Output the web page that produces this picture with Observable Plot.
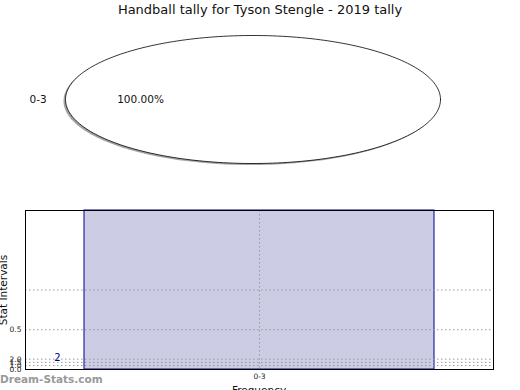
<!DOCTYPE html>
<html><head><meta charset="utf-8">
<script src="https://cdn.jsdelivr.net/npm/d3@7"></script>
<script src="https://cdn.jsdelivr.net/npm/@observablehq/plot@0.6"></script>
<style>
body{margin:0;background:#fff;font-family:"DejaVu Sans",sans-serif;}
#wrap{position:relative;width:520px;height:390px;overflow:hidden;}
#wrap svg{position:absolute;left:0;overflow:visible;}
#title{position:absolute;top:2px;left:0;width:520px;text-align:center;font-size:13px;color:#111;}
#wm{position:absolute;left:0;top:373px;font-size:10.5px;font-weight:bold;color:#999;font-family:"DejaVu Sans",sans-serif;}
</style></head>
<body><div id="wrap"><div id="title">Handball tally for Tyson Stengle - 2019 tally</div></div>
<script>
const titleText = "Handball tally for Tyson Stengle - 2019 tally";
const categories = ["0-3"];
const counts = [2];
const percentLabels = ["100.00%"];
const yTickValues = [0, 0.05, 0.09, 0.13, 0.5];
const yTickLabels = ["0.0", "1.0", "1.5", "2.0", "0.5"];
const yGridValues = [0.05, 0.09, 0.13, 0.5, 1.0];
const valueLabelPos = [0.13];

const wrap = document.getElementById("wrap");

// ---------- Pie ----------
const pie = d3.pie().sort(null).startAngle(Math.PI/2).endAngle(Math.PI/2 + 2*Math.PI)(counts);
const ring = [];
pie.forEach((p, i) => {
  const n = 240;
  for (let k = 0; k <= n; k++) {
    const a = p.startAngle + (p.endAngle - p.startAngle) * k / n;
    ring.push({x: Math.sin(a), y: Math.cos(a), cat: categories[i]});
  }
});
const pieLabels = pie.map((p, i) => {
  const mid = (p.startAngle + p.endAngle) / 2;
  return {cat: categories[i], pct: percentLabels[i], mx: Math.sin(mid), my: Math.cos(mid)};
});
const pieSvg = Plot.plot({
  width: 520, height: 200,
  marginLeft: 65, marginRight: 80, marginTop: 35, marginBottom: 37,
  x: {domain: [-1, 1], axis: null},
  y: {domain: [-1, 1], axis: null},
  style: {fontFamily: "DejaVu Sans, sans-serif", overflow: "visible"},
  marks: [
    Plot.line(ring, {x: "x", y: "y", fill: "#999", stroke: "none", dx: -2, dy: 1.5, opacity: 0.9}),
    Plot.line(ring, {x: "x", y: "y", fill: "white", stroke: "black", strokeWidth: 0.8}),
    Plot.text(pieLabels, {x: d => d.mx * 1.1, y: d => d.my * 1.1, text: "cat", textAnchor: "end", fontSize: 10.5, fill: "#111"}),
    Plot.text(pieLabels, {x: d => d.mx * 0.6, y: d => d.my * 0.6, text: "pct", fontSize: 10.5, fill: "#111"})
  ]
});
pieSvg.style.top = "0px";
wrap.appendChild(pieSvg);

// ---------- Bar ----------
const bars = categories.map((c, i) => ({cat: c, v: counts[i]}));
const labelMap = new Map(yTickValues.map((v, i) => [v, yTickLabels[i]]));
const barSvg = Plot.plot({
  width: 520, height: 190,
  marginLeft: 25, marginRight: 27, marginTop: 10, marginBottom: 21,
  x: {domain: categories, padding: 0.144, label: null},
  y: {domain: [0, 2], label: null},
  style: {fontFamily: "DejaVu Sans, sans-serif", overflow: "visible"},
  marks: [
    Plot.barY(bars, {x: "cat", y: "v", fill: "#ccccE4", stroke: "#00008B", strokeWidth: 1}),
    Plot.ruleY(yGridValues, {stroke: "#999", strokeDasharray: "1.5,2.5", strokeWidth: 1}),
    Plot.ruleX(categories, {x: d => d, stroke: "#999", strokeDasharray: "1.5,2.5", strokeWidth: 1}),
    Plot.text(bars, {x: "cat", y: () => valueLabelPos[0], text: d => String(d.v), dx: -202, fill: "#00008B", fontSize: 10, textAnchor: "middle", dy: -1}),
    Plot.axisY({ticks: yTickValues, tickFormat: d => labelMap.get(d), tickSize: 0, tickPadding: 4, fontSize: 7.5, fill: "#222", label: null}),
    Plot.axisX({tickSize: 0, tickPadding: 4, fontSize: 7.5, fill: "#222", label: null}),
    Plot.frame({stroke: "black", strokeWidth: 1})
  ]
});
barSvg.style.top = "200px";
wrap.appendChild(barSvg);

const ns = "http://www.w3.org/2000/svg";
function addText(svg, attrs, str) {
  const t = document.createElementNS(ns, "text");
  for (const k in attrs) t.setAttribute(k, attrs[k]);
  t.textContent = str;
  svg.appendChild(t);
}
addText(barSvg, {x: 0, y: 0, transform: "translate(7,90) rotate(-90)", "text-anchor": "middle", "font-size": 10.5, fill: "#111", "font-family": "DejaVu Sans, sans-serif"}, "Stat Intervals");
addText(barSvg, {x: 259, y: 194, "text-anchor": "middle", "font-size": 10.5, fill: "#111", "font-family": "DejaVu Sans, sans-serif"}, "Frequency");

const wm = document.createElement("div");
wm.id = "wm"; wm.textContent = "Dream-Stats.com";
wrap.appendChild(wm);
</script></body></html>
